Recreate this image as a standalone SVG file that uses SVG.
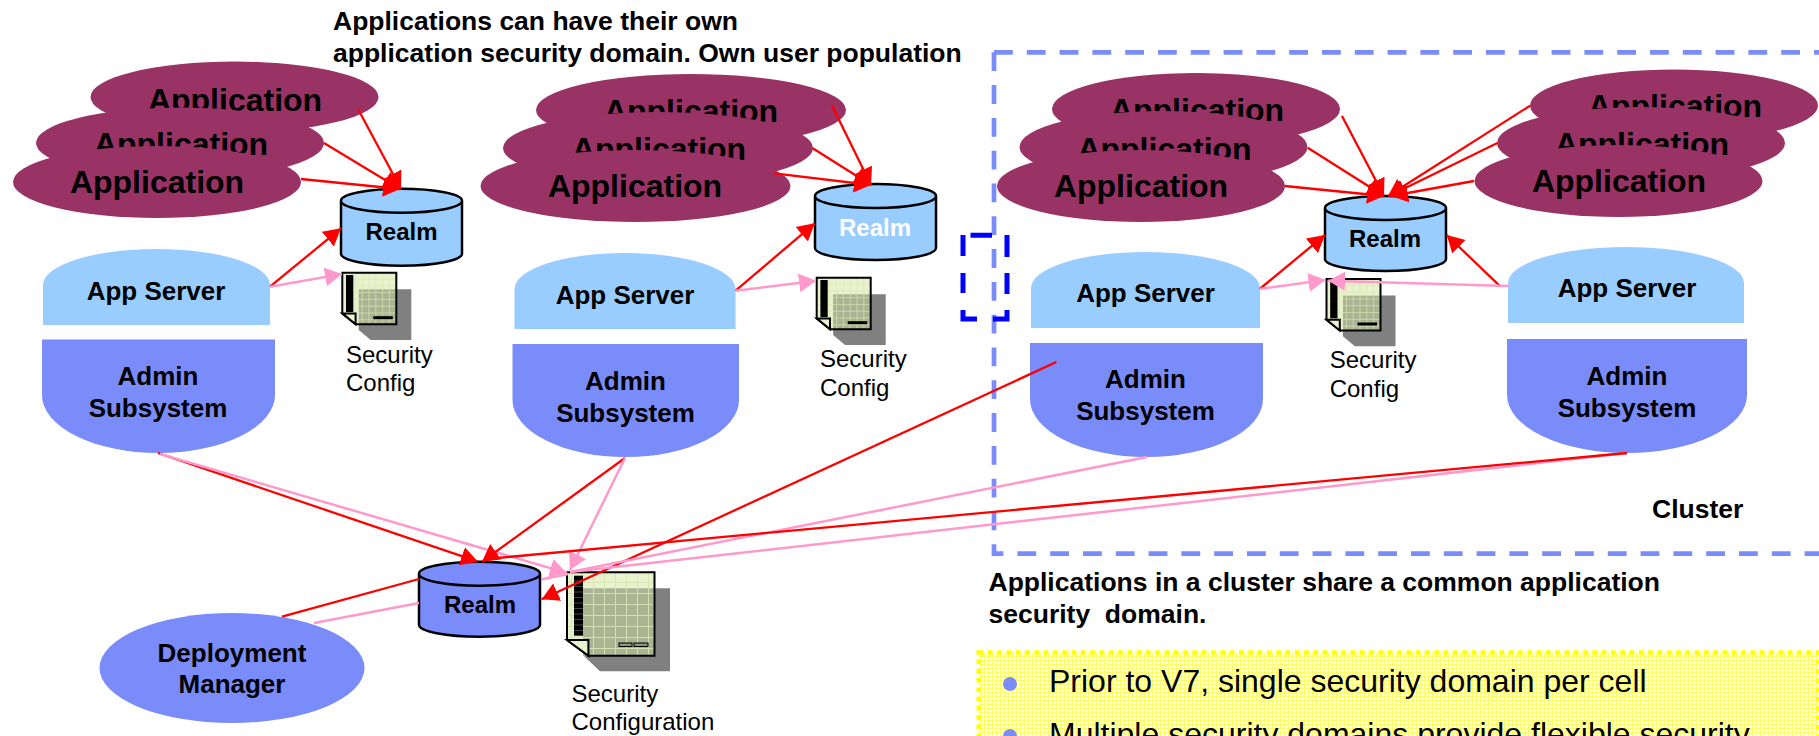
<svg xmlns="http://www.w3.org/2000/svg" width="1819" height="736" viewBox="0 0 1819 736">
<style>
text{font-family:"Liberation Sans",Arial,sans-serif;fill:#000;white-space:pre}
.b{font-weight:bold;font-size:26px}
.h{font-weight:bold;font-size:26.5px}
.c{text-anchor:middle}
.app{fill:#993366}
.apt{font-weight:bold;font-size:32px;text-anchor:middle}
.as{fill:#99ccff}
.ad{fill:#7a8bfa}
.r{stroke:#000;stroke-width:2.5}
.rt{font-weight:bold;font-size:24px;text-anchor:middle}
.s{font-size:24px}
.li{font-size:32px}
.red{fill:none;stroke:#f00;stroke-width:2.3}
.pink{fill:none;stroke:#ff99cc;stroke-width:2.5}
.ra{marker-end:url(#ra)}
.pa{marker-end:url(#pa)}
.ol{fill:none;stroke:#000;stroke-width:2}
.fold{fill:#e9f2cf;stroke:#000;stroke-width:2}
</style>
<defs>
<marker id="ra" markerUnits="userSpaceOnUse" markerWidth="18" markerHeight="20" refX="17" refY="10" orient="auto"><path d="M0 0.500L17 10L0 19.500Z" fill="#f00"/></marker>
<marker id="pa" markerUnits="userSpaceOnUse" markerWidth="18" markerHeight="20" refX="17" refY="10" orient="auto"><path d="M0 0.500L17 10L0 19.500Z" fill="#ff99cc"/></marker>
<pattern id="yg" patternUnits="userSpaceOnUse" width="4" height="4"><rect width="4" height="4" fill="#fff"/><path d="M0 .5H4M.5 0V4" stroke="#ffff66" stroke-width="1"/></pattern>
<pattern id="lg" patternUnits="userSpaceOnUse" width="6.800" height="6.800"><rect width="6.800" height="6.800" fill="#e9f2cf"/><path d="M0 6.400H6.800M6.400 0V6.800" stroke="#d9e6ae" stroke-width=".8"/></pattern>
<pattern id="dg" patternUnits="userSpaceOnUse" width="6.800" height="6.800"><rect width="6.800" height="6.800" fill="#aab392"/><path d="M0 6.400H6.800M6.400 0V6.800" stroke="#d5dfae" stroke-width=".8"/></pattern>
<pattern id="dgb" patternUnits="userSpaceOnUse" width="11" height="11"><rect width="11" height="11" fill="#aab392"/><path d="M0 10.500H11M10.500 0V11" stroke="#d5dfae" stroke-width="1"/></pattern>
<pattern id="lgb" patternUnits="userSpaceOnUse" width="11" height="11"><rect width="11" height="11" fill="#e9f2cf"/><path d="M0 10.500H11M10.500 0V11" stroke="#d9e6ae" stroke-width="1"/></pattern>
<g id="doc">
<path d="M16.400 16.600H69V67.300H28.400L16.400 57.300Z" fill="#808080"/>
<path d="M0 0H54V51.500H13.300L0 40.700Z" fill="url(#lg)"/>
<rect x="16.400" y="16.600" width="37.600" height="34.900" fill="url(#dg)"/>
<path class="ol" d="M0 0H54V51.500H13.300L0 40.700Z"/>
<rect x="3.700" y="2.300" width="7.300" height="37" fill="#000"/>
<path class="fold" d="M0 40.700H13.300V51.500Z"/>
<rect x="31" y="43.500" width="19.500" height="3" fill="#000"/>
</g>
</defs>
<rect width="1819" height="736" fill="#fff"/>

<text class="h" x="333" y="30">Applications can have their own</text>
<text class="h" x="333" y="62">application security domain. Own user population</text>

<g id="cluster"><path d="M994 52.300H1900M994 52.300V553.700H1900" fill="none" stroke="#7a8bfa" stroke-width="4.700" stroke-dasharray="18.800 14"/><text class="h" x="1652" y="518">Cluster</text></g>
<g id="selection"><path d="M970.500 235.300H992M963 235V256M963 273V293M963 310V319H977M1007 235V257M1007 273V294M1007 310V319H993" fill="none" stroke="#0000ff" stroke-width="5"/></g>

<g id="apps1">
<ellipse class="app" cx="234.500" cy="97" rx="144" ry="35.500"/><text class="apt" x="235" y="111">Application</text>
<ellipse class="app" cx="180" cy="143" rx="144" ry="35.500"/><text class="apt" x="181" y="155">Application</text>
<ellipse class="app" cx="157" cy="182" rx="144" ry="36"/><text class="apt" x="157" y="193">Application</text>
</g>
<g id="apps2">
<ellipse class="app" cx="691" cy="110" rx="155" ry="36"/><text class="apt" x="691" y="122">Application</text>
<ellipse class="app" cx="658" cy="148" rx="155" ry="36"/><text class="apt" x="659" y="160">Application</text>
<ellipse class="app" cx="635.500" cy="186" rx="155" ry="36"/><text class="apt" x="635" y="197">Application</text>
</g>
<g id="apps3">
<ellipse class="app" cx="1196" cy="109" rx="144" ry="36"/><text class="apt" x="1197" y="121">Application</text>
<ellipse class="app" cx="1163.500" cy="147" rx="144" ry="36"/><text class="apt" x="1164.500" y="160">Application</text>
<ellipse class="app" cx="1141" cy="186" rx="144" ry="36"/><text class="apt" x="1141" y="197">Application</text>
</g>
<g id="apps4">
<ellipse class="app" cx="1674" cy="105.500" rx="144" ry="36"/><text class="apt" x="1675" y="117">Application</text>
<ellipse class="app" cx="1641" cy="143" rx="144" ry="36"/><text class="apt" x="1642" y="155">Application</text>
<ellipse class="app" cx="1618.500" cy="181" rx="144" ry="36"/><text class="apt" x="1619" y="192">Application</text>
</g>

<g id="server1"><path class="as" d="M43 325V285A113.500 36 0 0 1 270 285V325Z"/><text class="b c" x="156" y="300">App Server</text></g>
<g id="admin1"><path class="ad" d="M42 339.500H275V395A116.500 58 0 0 1 42 395Z"/><text class="b c" x="158" y="385">Admin</text><text class="b c" x="158" y="417">Subsystem</text></g>
<g id="server2"><path class="as" d="M514.500 329V289A110.500 36 0 0 1 735.500 289V329Z"/><text class="b c" x="625" y="304">App Server</text></g>
<g id="admin2"><path class="ad" d="M512.500 344H739V400A113.250 57 0 0 1 512.500 400Z"/><text class="b c" x="625.500" y="390">Admin</text><text class="b c" x="625.500" y="422">Subsystem</text></g>
<g id="server3"><path class="as" d="M1031 328V288A114.500 36 0 0 1 1260 288V328Z"/><text class="b c" x="1145.500" y="302">App Server</text></g>
<g id="admin3"><path class="ad" d="M1030 343H1263V399A116.500 58 0 0 1 1030 399Z"/><text class="b c" x="1145.500" y="388">Admin</text><text class="b c" x="1145.500" y="420">Subsystem</text></g>
<g id="server4"><path class="as" d="M1508 323V283A118 36 0 0 1 1744 283V323Z"/><text class="b c" x="1627" y="297">App Server</text></g>
<g id="admin4"><path class="ad" d="M1507 339H1747V395A120 58 0 0 1 1507 395Z"/><text class="b c" x="1627" y="385">Admin</text><text class="b c" x="1627" y="417">Subsystem</text></g>

<g id="realm1"><path class="as r" d="M341 200.700V253.700A60.500 12 0 0 0 462 253.700V200.700A60.500 12 0 0 0 341 200.700A60.500 12 0 0 0 462 200.700"/><text class="rt" x="401.500" y="240">Realm</text></g>
<g id="realm2"><path class="as r" d="M815 196V248A60.500 12 0 0 0 936 248V196A60.500 12 0 0 0 815 196A60.500 12 0 0 0 936 196"/><text class="rt" x="875" y="235.700" style="fill:#fff">Realm</text></g>
<g id="realm3"><path class="as r" d="M1325 208V259A60.500 12 0 0 0 1446 259V208A60.500 12 0 0 0 1325 208A60.500 12 0 0 0 1446 208"/><text class="rt" x="1385" y="246.700">Realm</text></g>
<g id="realm4"><path class="ad r" d="M419 573.700V624.700A60.500 12 0 0 0 540 624.700V573.700A60.500 12 0 0 0 419 573.700A60.500 12 0 0 0 540 573.700"/><text class="rt" x="480" y="612.700">Realm</text></g>

<g id="config1"><use href="#doc" x="342.300" y="272.700"/><text class="s" x="346" y="362.700">Security</text><text class="s" x="346" y="390.700">Config</text></g>
<g id="config2"><use href="#doc" x="816.700" y="277.700"/><text class="s" x="820" y="367">Security</text><text class="s" x="820" y="395.700">Config</text></g>
<g id="config3"><use href="#doc" x="1326.500" y="279"/><text class="s" x="1329.700" y="367.700">Security</text><text class="s" x="1329.700" y="397">Config</text></g>
<g id="config4">
<path d="M584 588.300H670V671.300H600L584 656Z" fill="#808080"/>
<path d="M567 572.300H654.500V655.700H588.400L567 640Z" fill="url(#lgb)"/>
<rect x="583" y="588.300" width="71.500" height="67.400" fill="url(#dgb)"/>
<path class="ol" d="M567 572.300H654.500V655.700H588.400L567 640Z"/>
<rect x="574" y="575.700" width="9" height="60" fill="#000"/>
<path d="M574 581H583M574 586.500H583M574 592H583M574 597.500H583M574 603H583M574 608.500H583M574 614H583M574 619.500H583M574 625H583M574 630.500H583" stroke="#555" stroke-width=".8"/>
<path class="fold" d="M567 640H588.400V655.700Z"/>
<rect x="619" y="643" width="13" height="3.500" fill="#8a9478" stroke="#000"/><rect x="634" y="643" width="14" height="3.500" fill="#8a9478" stroke="#000"/>
<text class="s" x="571.500" y="701.700">Security</text><text class="s" x="571.500" y="730">Configuration</text></g>

<g id="manager"><ellipse class="ad" cx="232" cy="668" rx="132.500" ry="55"/><text class="b c" x="232" y="662">Deployment</text><text class="b c" x="232" y="693">Manager</text></g>

<g id="note"><text class="h" x="988.500" y="591">Applications in a cluster share a common application</text><text class="h" x="988.500" y="623.300">security  domain.</text></g>
<g id="bullets">
<rect x="978.700" y="652.500" width="839" height="120" fill="url(#yg)" stroke="#ffff00" stroke-width="4.500" stroke-dasharray="4.500 4.800"/>
<circle cx="1010" cy="684" r="7" fill="#7a8bfa"/><text class="li" x="1049" y="692">Prior to V7, single security domain per cell</text>
<circle cx="1010" cy="736" r="7" fill="#7a8bfa"/><text class="li" x="1049" y="745">Multiple security domains provide flexible security</text>
</g>

<g id="connectors">
<path class="red ra" d="M358 109L401 189"/><path class="red ra" d="M324 143L400 189"/><path class="red ra" d="M301 179L400 189"/>
<path class="red ra" d="M270 286.700L341 228.300"/><path class="pink pa" d="M270 286.700L342 274"/>
<path class="red ra" d="M831.700 105L871 185"/><path class="red ra" d="M812.700 148.300L871 185"/><path class="red ra" d="M774.300 173.300L871 185"/>
<path class="red ra" d="M735.600 290.700L814.700 223.300"/><path class="pink pa" d="M735.600 290.700L816 280.700"/>
<path class="red ra" d="M1342 116L1384 196"/><path class="red ra" d="M1307.700 147.700L1384 196"/><path class="red ra" d="M1284.700 186L1384 196"/>
<path class="red ra" d="M1530 105.700L1388 196"/><path class="red ra" d="M1497.400 143L1389 196"/><path class="red ra" d="M1474 181L1391 196"/>
<path class="red ra" d="M1259.700 289L1325 235"/><path class="pink pa" d="M1259.700 289L1325.500 280"/>
<path class="red ra" d="M1500.500 286.700L1446.700 235"/><path class="pink pa" d="M1509 286L1328 280.700"/>
<path class="red ra" d="M158 453L478 561.700"/><path class="pink pa" d="M160 454L567 573"/>
<path class="red ra" d="M625 458L482 561.700"/><path class="pink pa" d="M625 458L570 570"/>
<path class="red ra" d="M1056.400 362L541.700 599.300"/>
<path class="pink" d="M1147 457L570 572"/><path class="pink" d="M1627 453L570 572"/>
<path class="red" d="M282 616.700L419 579M497 558L1627 453"/>
<path class="pink" d="M314 623L419 603M541 579.500L568 574"/>
</g>
</svg>
